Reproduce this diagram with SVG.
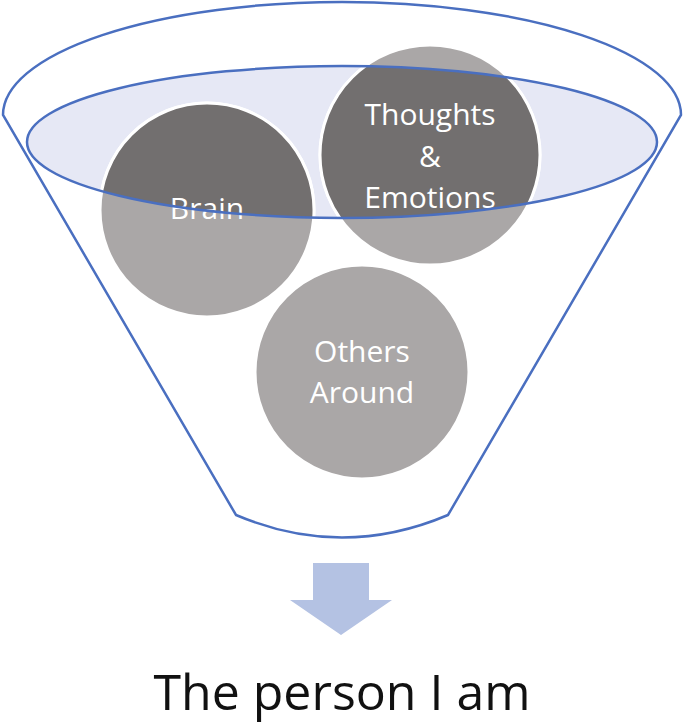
<svg xmlns="http://www.w3.org/2000/svg" width="684" height="725" viewBox="0 0 684 725">
<style>
.lbl{font-family:"Open Sans","Liberation Sans",sans-serif;font-size:30px;fill:#fff;text-anchor:middle}
.ln{fill:none;stroke:#4a6fc0;stroke-width:2.5}
</style>
<defs><clipPath id="ce"><ellipse cx="342" cy="142" rx="315" ry="76"/></clipPath></defs>
<g id="funnel">
<path d="M3,115 A339,113 0 0 1 681,115 L448,515 Q342,560 236,515 Z" fill="#fff" class="ln"/>
<ellipse cx="342" cy="142" rx="315" ry="76" fill="#e6e8f5"/>
</g>
<g id="brain">
<circle cx="207" cy="210" r="107" fill="#aaa7a7" stroke="#fff" stroke-width="3"/>
<circle cx="207" cy="210" r="107" fill="#726f6f" stroke="#fff" stroke-width="3" clip-path="url(#ce)"/>
<text class="lbl" x="207" y="219">Brain</text>
</g>
<g id="thoughts">
<circle cx="430" cy="155" r="110" fill="#aaa7a7" stroke="#fff" stroke-width="3"/>
<circle cx="430" cy="155" r="110" fill="#726f6f" stroke="#fff" stroke-width="3" clip-path="url(#ce)"/>
<text class="lbl" x="430" y="125">Thoughts</text>
<text class="lbl" x="430" y="167">&amp;</text>
<text class="lbl" x="430" y="208">Emotions</text>
</g>
<g id="others">
<circle cx="362" cy="372" r="107" fill="#aaa7a7" stroke="#fff" stroke-width="3"/>
<text class="lbl" x="362" y="362">Others</text>
<text class="lbl" x="362" y="403">Around</text>
</g>
<g id="connectors">
<ellipse cx="342" cy="142" rx="315" ry="76" class="ln"/>
<path d="M313,563 H369 V600 H392 L341,635 L290,600 H313 Z" fill="#b4c2e3"/>
</g>
<text x="342" y="710" font-family="'Open Sans','Liberation Sans',sans-serif" font-size="50" text-anchor="middle" fill="#111">The person I am</text>
</svg>
